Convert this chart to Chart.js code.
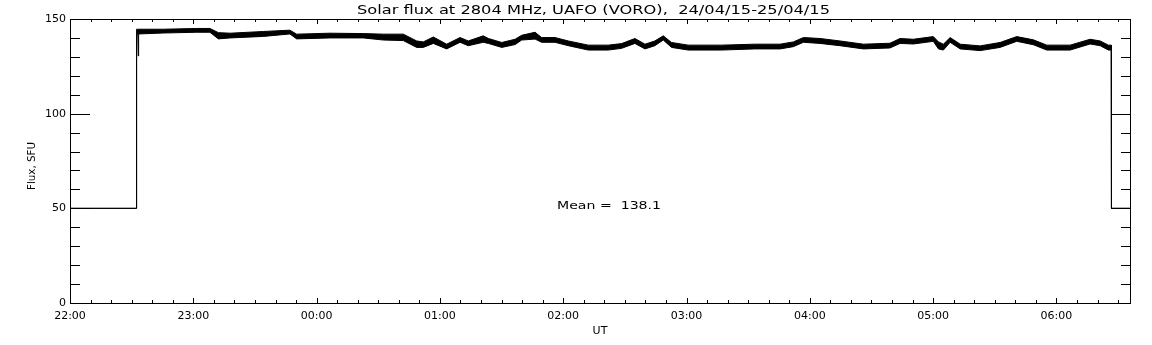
<!DOCTYPE html>
<html lang="en">
<head>
    <meta charset="UTF-8">
    <title>Solar flux 2804 MHz</title>
    <script src="https://cdn.jsdelivr.net/npm/chart.js"></script>
    <style>
        html, body { margin: 0; padding: 0; background: #fff; }
    </style>
</head>
<body>

<canvas id="fluxChart" width="1152" height="345"></canvas>

<script>
    // time in minutes after 22:00 UT
    const minutes = [
        0, 32.3, 32.4, 33.0, 33.2, 33.4, 45.4, 61.6, 68.1, 72.2,
        77.9, 94.1, 107.0, 110.3, 126.5, 142.7, 152.5, 162.2, 168.7, 171.9,
        176.8, 183.3, 189.8, 193.8, 201.1, 203.6, 210.1, 216.6, 219.8, 226.3,
        229.5, 236.0, 242.5, 252.2, 261.9, 268.4, 274.9, 279.8, 284.6, 288.7,
        292.7, 300.8, 317.0, 333.2, 345.5, 352.0, 356.9, 365.0, 374.7, 386.1,
        399.0, 403.9, 410.4, 420.1, 422.6, 425.0, 428.3, 433.2, 442.9, 452.6,
        460.7, 468.8, 475.3, 486.7, 496.4, 501.3, 505.3, 506.7, 506.8, 516.3
    ];
    // upper and lower edge of the noisy trace, SFU
    const fluxHigh = [
        50, 50, 144.6, 144.6, 144.6, 144.6, 144.6, 145.0, 145.0, 142.8,
        142.5, 143.4, 144.1, 142.0, 142.5, 142.3, 142.0, 142.0, 138.4, 137.9,
        140.5, 136.7, 140.2, 138.4, 141.1, 139.7, 137.6, 139.3, 141.4, 143.0,
        140.2, 140.2, 138.4, 136.2, 136.2, 137.0, 139.7, 136.7, 138.4, 141.1,
        137.6, 136.2, 136.2, 136.7, 136.7, 137.9, 140.2, 139.7, 138.4, 136.7,
        137.2, 139.7, 139.3, 140.7, 137.9, 136.7, 140.2, 136.7, 135.8, 137.6,
        140.7, 139.0, 136.2, 136.2, 139.3, 138.4, 136.2, 136.2, 50, 50
    ];
    const fluxLow = [
        50, 50, 142.1, 142.1, 130.5, 142.1, 142.6, 143.0, 143.0, 139.5,
        140.0, 140.8, 142.1, 139.5, 140.0, 140.0, 138.9, 138.6, 135.0, 135.0,
        137.1, 134.2, 137.7, 135.9, 137.7, 137.1, 135.0, 136.5, 138.9, 139.4,
        137.7, 137.7, 135.9, 133.6, 133.6, 134.5, 137.1, 134.2, 135.9, 138.9,
        135.0, 133.6, 133.6, 134.2, 134.2, 135.4, 137.7, 137.1, 135.9, 134.2,
        134.7, 137.1, 136.8, 138.2, 134.2, 133.6, 137.7, 134.2, 133.3, 135.0,
        138.2, 136.4, 133.6, 133.6, 136.8, 135.9, 133.6, 133.6, 50, 50
    ];
    const hourLabels = ['22:00', '23:00', '00:00', '01:00', '02:00', '03:00', '04:00', '05:00', '06:00'];
    const yMin = 0, yMax = 150, yStep = 50;
    const xMax = 516.3;
    const meanFlux = 138.1;

    const titleText = 'Solar flux at 2804 MHz, UAFO (VORO),  24/04/15-25/04/15';
    const FONT = '"DejaVu Sans", sans-serif';

    // draw text stretched horizontally to a given width (IDL font is wide)
    function fitText(ctx, text, left, baseY, width) {
        const w = ctx.measureText(text).width;
        ctx.save();
        ctx.translate(left, baseY);
        ctx.scale(width / w, 1);
        ctx.textAlign = 'left';
        ctx.fillText(text, 0, 0);
        ctx.restore();
    }

    // frame with inward ticks on all four sides, plus texts
    const idlFrame = {
        id: 'idlFrame',
        afterDraw(chart) {
            const {ctx, chartArea: a, scales: {x, y}} = chart;
            ctx.save();
            ctx.strokeStyle = '#000';
            ctx.lineWidth = 1;
            ctx.strokeRect(a.left + 0.5, a.top + 0.5, a.right - a.left - 1, a.bottom - a.top);

            ctx.beginPath();
            for (let v = yMin; v <= yMax; v += 10) {
                const py = Math.round(y.getPixelForValue(v)) + 0.5;
                const len = v % yStep === 0 ? 20 : 10;
                ctx.moveTo(a.left, py); ctx.lineTo(a.left + len, py);
                ctx.moveTo(a.right, py); ctx.lineTo(a.right - len, py);
            }
            for (let m = 0; m <= xMax; m += 10) {
                const px = Math.round(x.getPixelForValue(m)) + 0.5;
                const len = m % 60 === 0 ? 5 : 3;
                ctx.moveTo(px, a.bottom); ctx.lineTo(px, a.bottom - len);
                ctx.moveTo(px, a.top); ctx.lineTo(px, a.top + len);
            }
            ctx.stroke();

            ctx.fillStyle = '#000';
            ctx.textBaseline = 'alphabetic';
            ctx.font = '12px ' + FONT;
            fitText(ctx, titleText, 357, 14, 473);

            ctx.font = '11px ' + FONT;
            ctx.textAlign = 'center';
            ctx.fillText('UT', 600, 334);

            const mx = x.getPixelForValue(237);
            const my = y.getPixelForValue(51.8);
            fitText(ctx, 'Mean =  ' + meanFlux.toFixed(1), mx, my + 4, 104);

            ctx.translate(35, 166);
            ctx.rotate(-Math.PI / 2);
            fitText(ctx, 'Flux, SFU', -24, 0, 48);
            ctx.restore();
        }
    };

    const ctx = document.getElementById('fluxChart').getContext('2d');
    new Chart(ctx, {
        type: 'line',
        data: {
            labels: minutes,
            datasets: [
                {
                    label: 'high',
                    data: minutes.map((m, i) => ({x: m, y: fluxHigh[i]})),
                    borderColor: '#000',
                    backgroundColor: '#000',
                    borderWidth: 1,
                    pointRadius: 0,
                    tension: 0,
                    fill: '+1'
                },
                {
                    label: 'low',
                    data: minutes.map((m, i) => ({x: m, y: fluxLow[i]})),
                    borderColor: '#000',
                    borderWidth: 1,
                    pointRadius: 0,
                    tension: 0,
                    fill: false
                }
            ]
        },
        options: {
            responsive: false,
            animation: false,
            layout: { padding: { top: 19, right: 21, left: 0, bottom: 0 } },
            plugins: {
                legend: { display: false },
                tooltip: { enabled: false }
            },
            scales: {
                x: {
                    type: 'linear',
                    min: 0,
                    max: xMax,
                    grid: { display: false, drawTicks: false },
                    border: { display: false },
                    afterBuildTicks: s => { s.ticks = s.ticks.filter(t => t.value % 60 === 0); },
                    afterFit: s => { s.height = 42; },
                    ticks: {
                        stepSize: 60,
                        maxRotation: 0,
                        autoSkip: false,
                        padding: 7,
                        color: '#000',
                        font: { family: FONT, size: 11 },
                        callback: v => hourLabels[Math.round(v / 60)]
                    }
                },
                y: {
                    min: yMin,
                    max: yMax,
                    grid: { display: false, drawTicks: false },
                    border: { display: false },
                    afterFit: s => { s.width = 70; },
                    ticks: {
                        stepSize: yStep,
                        padding: 4,
                        color: '#000',
                        font: { family: FONT, size: 11 }
                    }
                }
            }
        },
        plugins: [idlFrame]
    });
</script>

</body>
</html>
